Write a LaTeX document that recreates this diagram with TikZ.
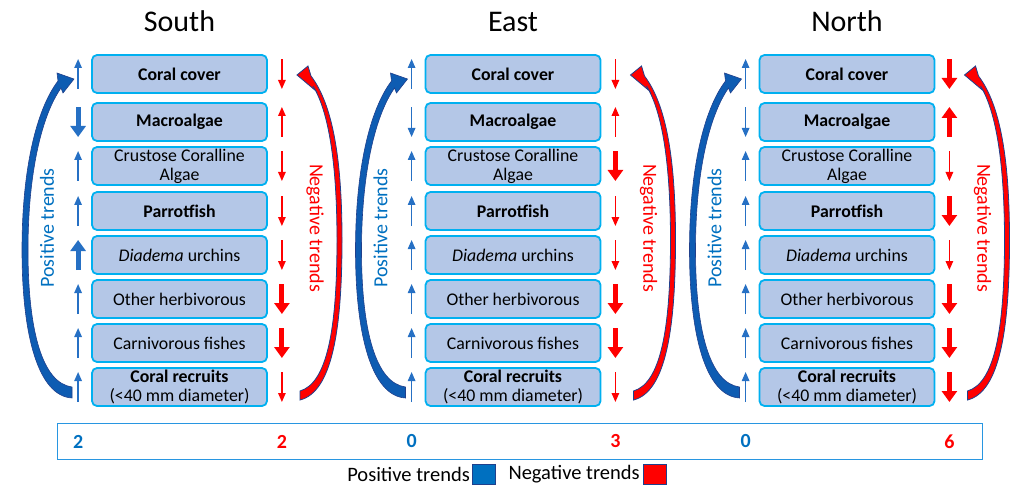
\documentclass[tikz,border=0pt]{standalone}
\usepackage{fontspec}
\setmainfont{Carlito}
\usetikzlibrary{arrows.meta,positioning,calc}
\definecolor{boxfill}{RGB}{180,199,231}
\definecolor{boxline}{RGB}{0,176,240}
\definecolor{trendblue}{RGB}{0,112,192}
\definecolor{arrowblue}{RGB}{38,112,196}
\definecolor{trendred}{RGB}{255,0,0}
\definecolor{arcblue}{RGB}{14,92,178}
\definecolor{arcedge}{RGB}{32,64,140}
\definecolor{barline}{RGB}{40,150,225}

\begin{document}
\begin{tikzpicture}[
  x=1pt, y=-1pt,
  trendbox/.style={
    rectangle,
    rounded corners=5pt,
    draw=boxline,
    line width=1.8pt,
    fill=boxfill,
    minimum width=175pt,
    minimum height=38pt,
    inner sep=0pt,
    align=center,
    font=\fontsize{17.8}{19}\selectfont
  },
  paneltitle/.style={font=\fontsize{30}{34}\selectfont, anchor=base},
  sidelabel/.style={font=\fontsize{20}{22}\selectfont, inner sep=0pt},
  trend/.style={line width=1.3pt, draw=#1},
  tup/.style={-{Triangle[length=9pt,width=7.5pt]}},
  tdn/.style={{Triangle[length=9pt,width=7.5pt]}-},
  TUP/.style={line width=5pt, -{Triangle[length=11pt,width=15pt]}},
  TDN/.style={line width=5pt, {Triangle[length=11pt,width=15pt]}-},
  count/.style={font=\bfseries\fontsize{20}{22}\selectfont, inner sep=0pt},
  legendtext/.style={font=\fontsize{20.5}{22}\selectfont, inner sep=0pt},
  legendbox/.style={draw=arcedge, line width=0.8pt, minimum width=23pt, minimum height=20pt, inner sep=0pt}
]
\useasboundingbox (0,0) rectangle (1014,489);

% three panels: title, boxes, curved arrows, side labels
\foreach \p/\cx/\ttl/\dx in {S/179.5/South/0, E/513/East/333.5, N/847/North/667.5} {
  \node[paneltitle] (title\p) at (\cx,31.7) {\ttl};
  \foreach \r/\y/\txt in {
      1/74/{\textbf{Coral cover}},
      2/122/{\textbf{Macroalgae}},
      3/166/{Crustose Coralline\\Algae},
      4/211/{\textbf{Parrotfish}},
      5/255/{\textit{Diadema} urchins},
      6/299/{Other herbivorous},
      7/343/{Carnivorous fishes},
      8/387/{\textbf{Coral recruits}\\(<40 mm diameter)}} {
    \node[trendbox] (\p\r) at (\cx,\y) {\txt};
  }
  \begin{scope}[xshift=\dx]
    \filldraw[fill=arcblue, draw=arcedge, line width=0.6pt]
      (72,398) .. controls (38,396) and (22,335) .. (22,250)
      .. controls (22,170) and (36,110) .. (58,81)
      -- (57,73) -- (74,79) -- (63,93) -- (61,88)
      .. controls (42,115) and (28,172) .. (28,250)
      .. controls (28,330) and (42,383) .. (72,387) -- cycle;
    \filldraw[fill=trendred, draw=arcedge, line width=0.8pt]
      (300,400) .. controls (332,392) and (342,330) .. (342,240)
      .. controls (342,160) and (333,105) .. (311,76)
      -- (308,66) -- (297,75) -- (316,91) -- (313,86)
      .. controls (329,112) and (337,165) .. (337,240)
      .. controls (337,330) and (327,383) .. (300,391) -- cycle;
    \node[sidelabel, rotate=90, text=trendblue] (pos\p) at (47,228) {Positive trends};
    \node[sidelabel, rotate=-90, text=trendred] (neg\p) at (315,228) {Negative trends};
  \end{scope}
}

% trend arrows beside each box
\foreach \r/\lt/\rt in {1/tup/tdn, 2/TDN/tup, 3/tup/tdn, 4/tup/tdn, 5/TUP/tdn, 6/tup/TDN, 7/tup/TDN, 8/tup/tdn} {
  \draw[trend=arrowblue, \lt] ($(S\r.west)+(-13,15)$) -- ($(S\r.west)+(-13,-15)$);
  \draw[trend=trendred, \rt] ($(S\r.east)+(14,15)$) -- ($(S\r.east)+(14,-15)$);
}
\foreach \r/\lt/\rt in {1/tup/tdn, 2/tdn/tup, 3/tup/TDN, 4/tup/tdn, 5/tup/tdn, 6/tup/TDN, 7/tup/TDN, 8/tup/tdn} {
  \draw[trend=arrowblue, \lt] ($(E\r.west)+(-13,15)$) -- ($(E\r.west)+(-13,-15)$);
  \draw[trend=trendred, \rt] ($(E\r.east)+(14,15)$) -- ($(E\r.east)+(14,-15)$);
}
\foreach \r/\lt/\rt in {1/tup/TDN, 2/tdn/TUP, 3/tup/tdn, 4/tup/TDN, 5/tup/tdn, 6/tup/TDN, 7/tup/TDN, 8/tup/TDN} {
  \draw[trend=arrowblue, \lt] ($(N\r.west)+(-13,15)$) -- ($(N\r.west)+(-13,-15)$);
  \draw[trend=trendred, \rt] ($(N\r.east)+(14,15)$) -- ($(N\r.east)+(14,-15)$);
}

% tally bar
\node[draw=barline, line width=1.4pt, minimum width=925pt, minimum height=36pt, inner sep=0pt] (tally) at (520,441.5) {};
\node[count, text=trendblue] (cS1) at ($(S8.west |- tally)+(-13,0)$) {2};
\node[count, text=trendred] (cS2) at ($(S8.east |- tally)+(14,0)$) {2};
\node[count, text=trendblue] (cE1) at ($(E8.west |- tally)+(-13,0)$) {0};
\node[count, text=trendred] (cE2) at ($(E8.east |- tally)+(14,0)$) {3};
\node[count, text=trendblue] (cN1) at ($(N8.west |- tally)+(-13,0)$) {0};
\node[count, text=trendred] (cN2) at ($(N8.east |- tally)+(14,0)$) {6};

% legend
\node[legendtext, anchor=base east] (posname) at (470,481.5) {Positive trends};
\node[legendbox, fill=trendblue, right=1.5pt of posname] (posbox) {};
\node[legendtext, right=13pt of posbox] (negname) {Negative trends};
\node[legendbox, fill=trendred, right=3pt of negname] (negbox) {};

\end{tikzpicture}
\end{document}
